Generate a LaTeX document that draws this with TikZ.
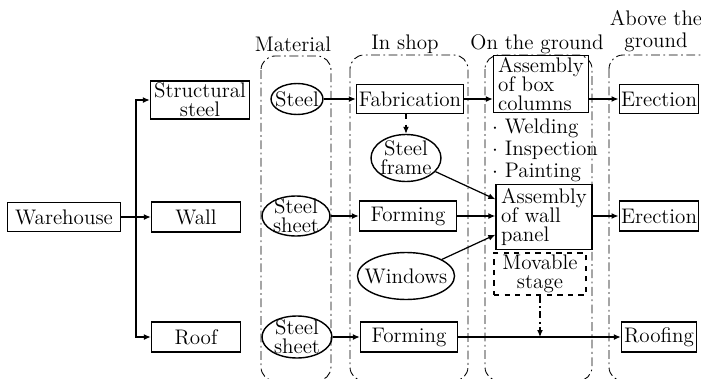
\documentclass[tikz,border=0pt]{standalone}
\usepackage{tikz}
\usetikzlibrary{arrows.meta, positioning, calc, shapes.geometric}
\newcommand{\chartfont}{\fontsize{12}{11}\selectfont}
\newcommand{\listfont}{\fontsize{12}{12.5}\selectfont}
\tikzset{
    box/.style={draw, line width=0.8pt, inner xsep=1pt, inner ysep=1pt, align=center, font=\chartfont},
    oval/.style={ellipse, draw, line width=0.8pt, inner xsep=-4pt, inner ysep=-2pt, align=center, font=\chartfont},
    lane/.style={draw, line width=0.5pt, rounded corners=8pt, dash pattern=on 5pt off 2pt on 1pt off 2pt},
    head/.style={font=\listfont, align=center},
    arr/.style={-{Latex[length=1.4mm, width=1.2mm]}, line width=0.7pt},
    dashdot/.style={dash pattern=on 4pt off 2pt on 1pt off 2pt}
}
\begin{document}
\begin{tikzpicture}[x=0.02cm, y=-0.02cm]
    \clip (0,0) rectangle (701,379);
    % lanes
    \draw[lane] (261,56) rectangle (331,381);
    \draw[lane] (350,55) rectangle (468,381);
    \draw[lane] (485,55) rectangle (592,381);
    \draw[lane] (609,55) rectangle (720,381);
    \node[head] (tmat) at (293,44) {Material};
    \node[head] (tshop) at (405,44) {In shop};
    \node[head] (tground) at (537,44) {On the ground};
    \node[head] (tabove) at (656,31) {Above the\\ground};
    % breakdown
    \node[box, minimum width=2.26cm, minimum height=0.58cm] (wh) at (64,217) {Warehouse};
    \node[box, minimum width=1.98cm, minimum height=0.72cm] (sst) at (200,100) {Structural\\steel};
    \node[box, minimum width=1.78cm, minimum height=0.6cm] (wall) at (196,217) {Wall};
    \node[box, minimum width=1.78cm, minimum height=0.6cm] (roof) at (196,337) {Roof};
    % material
    \node[oval, minimum width=1.04cm, minimum height=0.62cm] (steel) at (297,99) {Steel};
    \node[oval, minimum width=1.36cm, minimum height=0.8cm] (sheeta) at (296,216) {Steel\\sheet};
    \node[oval, minimum width=1.4cm, minimum height=0.84cm] (sheetb) at (297,337) {Steel\\sheet};
    % in shop
    \node[box, minimum width=2.14cm, minimum height=0.58cm] (fab) at (410,99) {Fabrication};
    \node[oval, minimum width=1.4cm, minimum height=0.94cm] (sframe) at (406,158) {Steel\\frame};
    \node[box, minimum width=1.94cm, minimum height=0.6cm] (forma) at (408,216) {Forming};
    \node[oval, minimum width=1.74cm, minimum height=0.94cm] (windows) at (406,276) {Windows};
    \node[box, minimum width=1.94cm, minimum height=0.6cm] (formb) at (409,337) {Forming};
    % on the ground
    \node[box, minimum width=1.9cm, minimum height=1.1cm, align=left] (bcol) at (541,84) {Assembly\\of box\\columns};
    \node[head, align=left, anchor=north west] (steps) at (486,113) {$\cdot$ Welding\\$\cdot$ Inspection\\$\cdot$ Painting};
    \node[box, minimum width=1.92cm, minimum height=1.3cm, align=left] (wpanel) at (544,217) {Assembly\\of wall\\panel};
    \node[box, dashed, minimum width=1.84cm, minimum height=0.7cm] (mstage) at (540,274) {Movable\\stage};
    % above the ground
    \node[box, minimum width=1.5cm, minimum height=0.58cm] (ereca) at (659,99) {Erection};
    \node[box, minimum width=1.5cm, minimum height=0.6cm] (erecb) at (659,216) {Erection};
    \node[box, minimum width=1.5cm, minimum height=0.6cm] (roofing) at (659,337) {Roofing};
    % tree
    \coordinate (trunk) at (136,217);
    \draw[line width=0.7pt] (wh) -- (trunk);
    \draw[arr] (trunk) |- (sst);
    \draw[arr] (trunk) -- (wall);
    \draw[arr] (trunk) |- (roof);
    % flows
    \draw[arr] (steel) -- (fab);
    \draw[arr] (fab.east) -- (fab.east -| bcol.west);
    \draw[arr] (bcol.east |- ereca) -- (ereca);
    \draw[arr, dashed] (fab.south -| sframe.north) -- (sframe.north);
    \draw[arr] (sframe) -- (wpanel.160);
    \draw[arr] (sheeta) -- (forma);
    \draw[arr] (forma) -- (forma -| wpanel.west);
    \draw[arr] (windows) -- (wpanel.200);
    \draw[arr] (wpanel.east |- erecb) -- (erecb);
    \draw[arr] (sheetb) -- (formb);
    \draw[arr] (formb) -- (roofing);
    \draw[arr, dashdot] (mstage) -- (mstage |- formb);
\end{tikzpicture}
\end{document}
